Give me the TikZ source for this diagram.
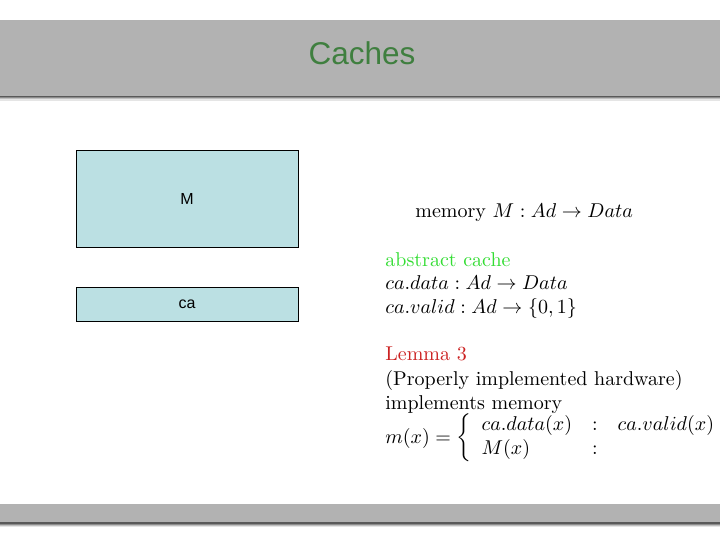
\documentclass[tikz,border=0pt]{standalone}
\usepackage{fontspec}
\newfontfamily\arialf{Liberation Sans}
\definecolor{bandgray}{HTML}{B2B2B2}
\definecolor{titlegreen}{HTML}{3F7F3F}
\definecolor{boxblue}{HTML}{BBE0E3}
\definecolor{absgreen}{HTML}{33DD33}
\definecolor{lemred}{HTML}{CC2222}
\tikzset{
  membox/.style={draw=black, line width=0.8pt, fill=boxblue, inner sep=0pt},
  boxlabel/.style={font=\arialf\fontsize{16}{18}\selectfont},
  txt/.style={anchor=base west, inner sep=0pt, font=\normalsize, scale=2, transform shape},
}
\begin{document}
\begin{tikzpicture}[x=1pt,y=-1pt]
\useasboundingbox (0,0) rectangle (720,540);
\fill[white] (0,0) rectangle (720,540);
% header band with shadow
\fill[bandgray] (0,20) rectangle (720,96);
\fill[black!65] (0,96) rectangle (720,97.5);
\fill[black!45] (0,97.5) rectangle (720,98.5);
\fill[black!25] (0,98.5) rectangle (720,99.5);
\fill[black!10] (0,99.5) rectangle (720,101);
\node[font=\arialf\fontsize{31.5}{36}\selectfont, text=titlegreen] (title) at (362,53) {Caches};
% footer band with shadow
\fill[bandgray] (0,504) rectangle (720,522);
\fill[black!65] (0,522) rectangle (720,523.5);
\fill[black!45] (0,523.5) rectangle (720,524.5);
\fill[black!25] (0,524.5) rectangle (720,525.5);
\fill[black!10] (0,525.5) rectangle (720,527);
% boxes
\node[membox, minimum width=222pt, minimum height=97pt] (M) at (187,198.5) {};
\node[boxlabel] (Mlab) at (M.center) {M};
\node[membox, minimum width=222pt, minimum height=34pt] (ca) at (187,304) {};
\node[boxlabel] (calab) at (ca.center) {ca};
% right-hand text
\node[txt] (mem) at (415,218) {memory $M : Ad \rightarrow Data$};
\node[txt, text=absgreen] (abs) at (385,266) {abstract cache};
\node[txt] (cd) at (385,289.5) {$ca.data : Ad \rightarrow Data$};
\node[txt] (cv) at (385,313) {$ca.valid : Ad \rightarrow \{0,1\}$};
\node[txt, text=lemred] (lem) at (385,360) {Lemma 3};
\node[txt] (prop) at (385,385) {(Properly implemented hardware)};
\node[txt] (impl) at (385,409) {implements memory};
\node[txt, anchor=west] (cases) at (385,438)
  {$m(x) = \left\{\begin{array}{lcl} ca.data(x) & : & ca.valid(x)\\ M(x) & : & \end{array}\right.$};
\end{tikzpicture}
\end{document}
